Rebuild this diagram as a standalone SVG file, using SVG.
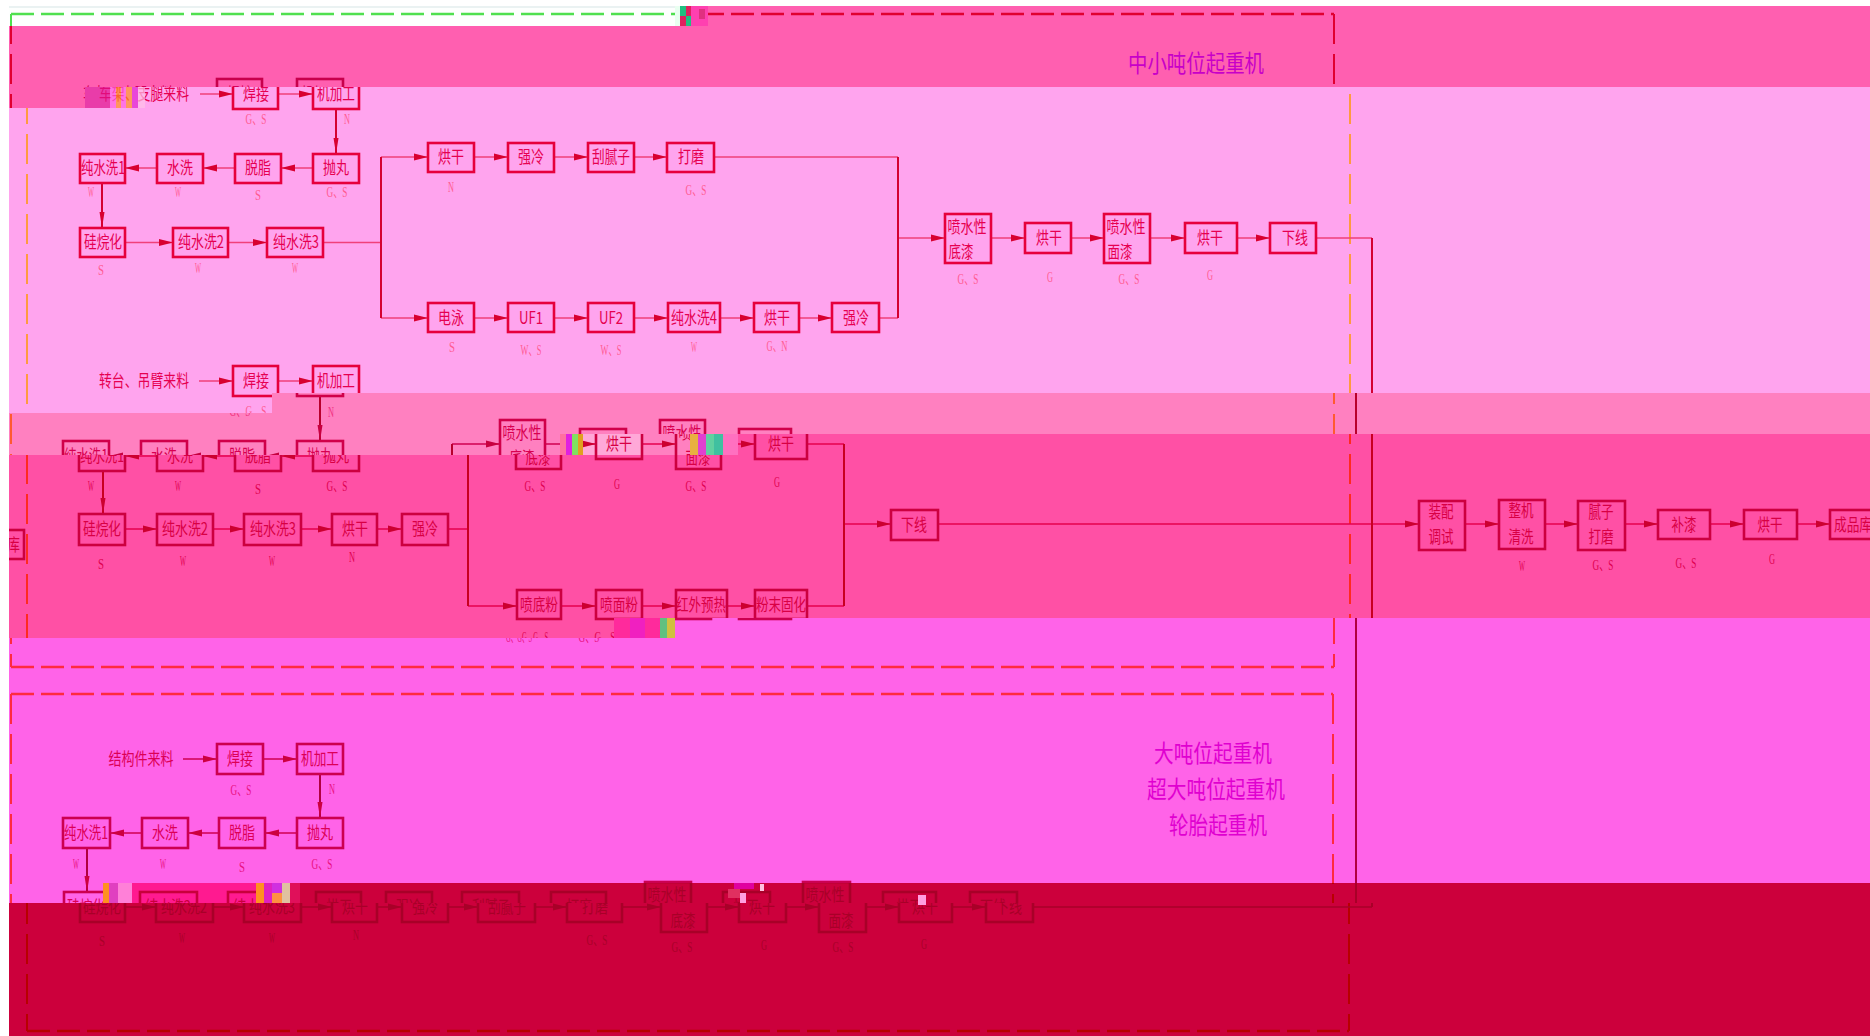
<svg xmlns="http://www.w3.org/2000/svg" xmlns:xlink="http://www.w3.org/1999/xlink" width="1870" height="1036" viewBox="0 0 1870 1036">
<style>
.box{fill:none;stroke:var(--b);stroke-width:2.6}
.t{font-family:"Noto Sans CJK SC","Liberation Sans",sans-serif;font-size:17px;fill:var(--t);text-anchor:middle}
.l{font-family:"Liberation Serif","Noto Sans CJK SC",serif;font-size:15px;fill:var(--l);text-anchor:middle}
.m{font-family:"Noto Sans CJK SC","Liberation Sans",sans-serif;font-size:24px;fill:var(--m);text-anchor:middle}
.h{fill:none;stroke:var(--h);stroke-width:1.6}
.v{fill:none;stroke:var(--v);stroke-width:2}
.a{fill:var(--a)}
.fh{fill:none;stroke:var(--f);stroke-width:2.5;stroke-dasharray:23 7}
.fv{fill:none;stroke:var(--f);stroke-width:2;stroke-dasharray:30 10}
.e1{--b:#c8004c;--t:#d8005a;--l:#ff3a80;--f:#e00030;--v:#c80040;--h:#d00050;--a:#c80040;--m:#c800c8}
.o1{--b:#e6003c;--t:#e60050;--l:#ff5a90;--f:#ff9a40;--v:#d40030;--h:#f0407a;--a:#d80030;--m:#c800c8}
.e2{--b:#d0004a;--t:#d80050;--l:#f03080;--f:#ff5a30;--v:#b8002c;--h:#d00050;--a:#c80040;--m:#c800c8}
.o2{--b:#cc0040;--t:#d80044;--l:#e00050;--f:#ff2a20;--v:#c80020;--h:#e6004e;--a:#cc0030;--m:#c800c8}
.e3{--b:#cc0050;--t:#dc0056;--l:#e81080;--f:#ff2a40;--v:#b00040;--h:#d00050;--a:#cc0040;--m:#e000d0}
.hs{--b:#c8003c;--t:#c8003c;--l:#c8003c;--f:#c8003c;--v:#c8003c;--h:#c8003c;--a:#c8003c;--m:#c8003c}
.dk{--b:#a80028;--t:#a80028;--l:#a80028;--f:#b80000;--v:#a80028;--h:#a80028;--a:#a80028;--m:#a80028}
.wt{--b:#c8004c;--t:#e6006a;--l:#ff4a90;--f:#4fe04f;--v:#4fe04f;--h:#4fe04f;--a:#4fe04f;--m:#c800c8}
</style>
<defs>
<polygon id="ar" points="-14,-3.5 0,0 -14,3.5"/>
<polygon id="al" points="14,-3.5 0,0 14,3.5"/>
<polygon id="ad" points="-2.5,-16 0,0 2.5,-16"/>
<clipPath id="cW"><rect x="9" y="6" width="666" height="20"/></clipPath>
<clipPath id="cE1"><rect x="708" y="6" width="1162" height="20"/><rect x="9" y="26" width="1861" height="61"/><rect x="9" y="87" width="76" height="21"/></clipPath>
<clipPath id="cO1"><rect x="85" y="87" width="1785" height="306"/><rect x="9" y="108" width="76" height="285"/><rect x="9" y="393" width="263" height="20"/></clipPath>
<clipPath id="cE2"><rect x="272" y="393" width="1598" height="41"/><rect x="9" y="413" width="263" height="42"/><rect x="272" y="434" width="311" height="21"/></clipPath>
<clipPath id="cO2"><rect x="9" y="455" width="574" height="183"/><rect x="583" y="434" width="1287" height="184"/><rect x="583" y="618" width="31" height="20"/></clipPath>
<clipPath id="cE3"><rect x="9" y="638" width="1861" height="245"/><rect x="614" y="618" width="1256" height="20"/><rect x="9" y="883" width="94" height="20"/></clipPath>
<clipPath id="cH"><rect x="103" y="883" width="197" height="20"/></clipPath>
<clipPath id="cD1"><rect x="300" y="883" width="1570" height="20"/></clipPath>
<clipPath id="cD2"><rect x="9" y="903" width="1861" height="133"/></clipPath>
<clipPath id="cWrap"><rect x="9" y="525" width="18" height="40"/></clipPath>
<g id="content">
<g id="frames">
<path class="fh" d="M27,14H1350M27,667H1350M27,694H1349M27,1031H1349"/>
<path class="fv" d="M27,14V667M1350,14V667M27,694V1031M1349,694V1031"/>
</g>
<g id="connectors">
<path class="h" d="M200,94H233M278,94H313M313,168H281M235,168H203M157,168H125M125,242.5H173M228,242.5H267M323,242.5H381M381,157H428M474,157H508M554,157H588M634,157H667M714,157H898M381,318H428M474,318H508M554,318H588M634,318H668M720,318H754M799,318H832M879,318H898M898,238H945M991,238H1025M1071,238H1104M1150,238H1185M1237,238H1270M1316,238H1372"/>
<path class="h" d="M199,381H233M278,381H313M313,456H281M235,456H203M157,456H125M125,529H157M213,529H244M301,529H332M377,529H402M448,529H468M468,444H516M561,444H596M642,444H676M721,444H755M807,444H844M468,606H517M561,606H596M642,606H676M727,606H755M807,606H844M844,524H891M938,524H1419M1465,524H1499M1545,524H1578M1625,524H1658M1710,524H1744M1796,524H1830"/>
<path class="h" d="M199,759H233M279,759H313M313,833H281M235,833H204M158,833H126M125,907H156M213,907H244M301,907H332M377,907H402M448,907H478M535,907H567M622,907H661M707,907H739M786,907H819M866,907H899M952,907H986M1033,907H1372"/>
<path class="v" d="M336,109V154M102,183V228M381,157V318M898,157V318M1372,238V907M336,396V441M103,470V514M468,444V606M844,444V606M336,774V818M103,848V892"/>
<g class="a">
<use href="#ar" x="233" y="94"/><use href="#ar" x="313" y="94"/><use href="#ad" x="336" y="154"/><use href="#al" x="281" y="168"/><use href="#al" x="203" y="168"/><use href="#al" x="125" y="168"/><use href="#ad" x="102" y="228"/><use href="#ar" x="173" y="242.5"/><use href="#ar" x="267" y="242.5"/><use href="#ar" x="428" y="157"/><use href="#ar" x="508" y="157"/><use href="#ar" x="588" y="157"/><use href="#ar" x="667" y="157"/><use href="#ar" x="428" y="318"/><use href="#ar" x="508" y="318"/><use href="#ar" x="588" y="318"/><use href="#ar" x="668" y="318"/><use href="#ar" x="754" y="318"/><use href="#ar" x="832" y="318"/><use href="#ar" x="945" y="238"/><use href="#ar" x="1025" y="238"/><use href="#ar" x="1104" y="238"/><use href="#ar" x="1185" y="238"/><use href="#ar" x="1270" y="238"/>
<use href="#ar" x="233" y="381"/><use href="#ar" x="313" y="381"/><use href="#ad" x="336" y="441"/><use href="#al" x="281" y="456"/><use href="#al" x="203" y="456"/><use href="#al" x="125" y="456"/><use href="#ad" x="103" y="514"/><use href="#ar" x="157" y="529"/><use href="#ar" x="244" y="529"/><use href="#ar" x="332" y="529"/><use href="#ar" x="402" y="529"/><use href="#ar" x="516" y="444"/><use href="#ar" x="596" y="444"/><use href="#ar" x="676" y="444"/><use href="#ar" x="755" y="444"/><use href="#ar" x="517" y="606"/><use href="#ar" x="596" y="606"/><use href="#ar" x="676" y="606"/><use href="#ar" x="755" y="606"/><use href="#ar" x="891" y="524"/><use href="#ar" x="1419" y="524"/><use href="#ar" x="1499" y="524"/><use href="#ar" x="1578" y="524"/><use href="#ar" x="1658" y="524"/><use href="#ar" x="1744" y="524"/><use href="#ar" x="1830" y="524"/>
<use href="#ar" x="233" y="759"/><use href="#ar" x="313" y="759"/><use href="#ad" x="336" y="818"/><use href="#al" x="281" y="833"/><use href="#al" x="204" y="833"/><use href="#al" x="126" y="833"/><use href="#ad" x="103" y="892"/><use href="#ar" x="156" y="907"/><use href="#ar" x="244" y="907"/><use href="#ar" x="332" y="907"/><use href="#ar" x="402" y="907"/><use href="#ar" x="478" y="907"/><use href="#ar" x="567" y="907"/><use href="#ar" x="661" y="907"/><use href="#ar" x="739" y="907"/><use href="#ar" x="819" y="907"/><use href="#ar" x="899" y="907"/><use href="#ar" x="986" y="907"/>
</g>
</g>
<g id="titles">
<text class="m" x="1212" y="72" textLength="136" lengthAdjust="spacingAndGlyphs">中小吨位起重机</text>
<text class="m" x="1229" y="762" textLength="118" lengthAdjust="spacingAndGlyphs">大吨位起重机</text>
<text class="m" x="1232" y="798" textLength="138" lengthAdjust="spacingAndGlyphs">超大吨位起重机</text>
<text class="m" x="1234" y="834" textLength="98" lengthAdjust="spacingAndGlyphs">轮胎起重机</text>
</g>
<g id="feed1"><text class="t" x="144" y="100" textLength="90" lengthAdjust="spacingAndGlyphs">车架、支腿来料</text></g>
<g id="s1-weld"><rect class="box" x="233" y="79" width="45" height="30"/><text class="t" x="256" y="100" textLength="26" lengthAdjust="spacingAndGlyphs">焊接</text><text class="l" x="256" y="124" textLength="21" lengthAdjust="spacingAndGlyphs">G、S</text></g>
<g id="s1-mach"><rect class="box" x="313" y="79" width="46" height="30"/><text class="t" x="336" y="100" textLength="38" lengthAdjust="spacingAndGlyphs">机加工</text><text class="l" x="347" y="124" textLength="6" lengthAdjust="spacingAndGlyphs">N</text></g>
<g id="s1-shot"><rect class="box" x="313" y="154" width="46" height="29"/><text class="t" x="336" y="174" textLength="26" lengthAdjust="spacingAndGlyphs">抛丸</text><text class="l" x="337" y="197" textLength="21" lengthAdjust="spacingAndGlyphs">G、S</text></g>
<g id="s1-degrease"><rect class="box" x="235" y="154" width="46" height="29"/><text class="t" x="258" y="174" textLength="26" lengthAdjust="spacingAndGlyphs">脱脂</text><text class="l" x="258" y="200" textLength="6" lengthAdjust="spacingAndGlyphs">S</text></g>
<g id="s1-wash"><rect class="box" x="157" y="154" width="46" height="29"/><text class="t" x="180" y="174" textLength="26" lengthAdjust="spacingAndGlyphs">水洗</text><text class="l" x="178" y="197" textLength="6" lengthAdjust="spacingAndGlyphs">W</text></g>
<g id="s1-pw1"><rect class="box" x="80" y="154" width="45" height="29"/><text class="t" x="103" y="174" textLength="44" lengthAdjust="spacingAndGlyphs">纯水洗1</text><text class="l" x="91" y="197" textLength="6" lengthAdjust="spacingAndGlyphs">W</text></g>
<g id="s1-silane"><rect class="box" x="80" y="228" width="45" height="29"/><text class="t" x="103" y="248" textLength="38" lengthAdjust="spacingAndGlyphs">硅烷化</text><text class="l" x="101" y="275" textLength="6" lengthAdjust="spacingAndGlyphs">S</text></g>
<g id="s1-pw2"><rect class="box" x="173" y="228" width="55" height="29"/><text class="t" x="201" y="248" textLength="46" lengthAdjust="spacingAndGlyphs">纯水洗2</text><text class="l" x="198" y="273" textLength="6" lengthAdjust="spacingAndGlyphs">W</text></g>
<g id="s1-pw3"><rect class="box" x="267" y="228" width="56" height="29"/><text class="t" x="296" y="248" textLength="46" lengthAdjust="spacingAndGlyphs">纯水洗3</text><text class="l" x="295" y="273" textLength="6" lengthAdjust="spacingAndGlyphs">W</text></g>
<g id="s1-dry1"><rect class="box" x="428" y="143" width="46" height="29"/><text class="t" x="451" y="163" textLength="26" lengthAdjust="spacingAndGlyphs">烘干</text><text class="l" x="451" y="192" textLength="6" lengthAdjust="spacingAndGlyphs">N</text></g>
<g id="s1-cool1"><rect class="box" x="508" y="143" width="46" height="29"/><text class="t" x="531" y="163" textLength="26" lengthAdjust="spacingAndGlyphs">强冷</text></g>
<g id="s1-putty"><rect class="box" x="588" y="143" width="46" height="29"/><text class="t" x="611" y="163" textLength="38" lengthAdjust="spacingAndGlyphs">刮腻子</text></g>
<g id="s1-sand"><rect class="box" x="667" y="143" width="47" height="29"/><text class="t" x="691" y="163" textLength="26" lengthAdjust="spacingAndGlyphs">打磨</text><text class="l" x="696" y="195" textLength="21" lengthAdjust="spacingAndGlyphs">G、S</text></g>
<g id="s1-ep"><rect class="box" x="428" y="303" width="46" height="29"/><text class="t" x="451" y="324" textLength="26" lengthAdjust="spacingAndGlyphs">电泳</text><text class="l" x="452" y="352" textLength="6" lengthAdjust="spacingAndGlyphs">S</text></g>
<g id="s1-uf1"><rect class="box" x="508" y="303" width="46" height="29"/><text class="t" x="531" y="324" textLength="24" lengthAdjust="spacingAndGlyphs">UF1</text><text class="l" x="531" y="355" textLength="21" lengthAdjust="spacingAndGlyphs">W、S</text></g>
<g id="s1-uf2"><rect class="box" x="588" y="303" width="46" height="29"/><text class="t" x="611" y="324" textLength="24" lengthAdjust="spacingAndGlyphs">UF2</text><text class="l" x="611" y="355" textLength="21" lengthAdjust="spacingAndGlyphs">W、S</text></g>
<g id="s1-pw4"><rect class="box" x="668" y="303" width="52" height="29"/><text class="t" x="694" y="324" textLength="46" lengthAdjust="spacingAndGlyphs">纯水洗4</text><text class="l" x="694" y="352" textLength="6" lengthAdjust="spacingAndGlyphs">W</text></g>
<g id="s1-dry2"><rect class="box" x="754" y="303" width="45" height="29"/><text class="t" x="777" y="324" textLength="26" lengthAdjust="spacingAndGlyphs">烘干</text><text class="l" x="777" y="351" textLength="21" lengthAdjust="spacingAndGlyphs">G、N</text></g>
<g id="s1-cool2"><rect class="box" x="832" y="303" width="47" height="29"/><text class="t" x="856" y="324" textLength="26" lengthAdjust="spacingAndGlyphs">强冷</text></g>
<g id="s1-prime"><rect class="box" x="945" y="214" width="46" height="49"/><text class="t" x="967" y="233" textLength="39" lengthAdjust="spacingAndGlyphs">喷水性</text><text class="t" x="961" y="258" textLength="25" lengthAdjust="spacingAndGlyphs">底漆</text><text class="l" x="968" y="284" textLength="21" lengthAdjust="spacingAndGlyphs">G、S</text></g>
<g id="s1-dry3"><rect class="box" x="1025" y="223" width="46" height="30"/><text class="t" x="1049" y="244" textLength="26" lengthAdjust="spacingAndGlyphs">烘干</text><text class="l" x="1050" y="282" textLength="6" lengthAdjust="spacingAndGlyphs">G</text></g>
<g id="s1-top"><rect class="box" x="1104" y="214" width="46" height="49"/><text class="t" x="1126" y="233" textLength="39" lengthAdjust="spacingAndGlyphs">喷水性</text><text class="t" x="1120" y="258" textLength="25" lengthAdjust="spacingAndGlyphs">面漆</text><text class="l" x="1129" y="284" textLength="21" lengthAdjust="spacingAndGlyphs">G、S</text></g>
<g id="s1-dry4"><rect class="box" x="1185" y="223" width="52" height="30"/><text class="t" x="1210" y="244" textLength="26" lengthAdjust="spacingAndGlyphs">烘干</text><text class="l" x="1210" y="280" textLength="6" lengthAdjust="spacingAndGlyphs">G</text></g>
<g id="s1-off"><rect class="box" x="1270" y="223" width="46" height="30"/><text class="t" x="1295" y="244" textLength="26" lengthAdjust="spacingAndGlyphs">下线</text></g>
<g id="feed2"><text class="t" x="144" y="387" textLength="90" lengthAdjust="spacingAndGlyphs">转台、吊臂来料</text></g>
<g id="s2-weld"><rect class="box" x="233" y="366" width="45" height="30"/><text class="t" x="256" y="387" textLength="26" lengthAdjust="spacingAndGlyphs">焊接</text><text class="l" x="256" y="416" textLength="21" lengthAdjust="spacingAndGlyphs">G、S</text></g>
<g id="s2-mach"><rect class="box" x="313" y="366" width="46" height="30"/><text class="t" x="336" y="387" textLength="38" lengthAdjust="spacingAndGlyphs">机加工</text><text class="l" x="347" y="417" textLength="6" lengthAdjust="spacingAndGlyphs">N</text></g>
<g id="s2-shot"><rect class="box" x="313" y="441" width="46" height="30"/><text class="t" x="336" y="462" textLength="26" lengthAdjust="spacingAndGlyphs">抛丸</text><text class="l" x="337" y="491" textLength="21" lengthAdjust="spacingAndGlyphs">G、S</text></g>
<g id="s2-degrease"><rect class="box" x="235" y="441" width="46" height="30"/><text class="t" x="258" y="462" textLength="26" lengthAdjust="spacingAndGlyphs">脱脂</text><text class="l" x="258" y="494" textLength="6" lengthAdjust="spacingAndGlyphs">S</text></g>
<g id="s2-wash"><rect class="box" x="157" y="441" width="46" height="30"/><text class="t" x="180" y="462" textLength="26" lengthAdjust="spacingAndGlyphs">水洗</text><text class="l" x="178" y="491" textLength="6" lengthAdjust="spacingAndGlyphs">W</text></g>
<g id="s2-pw1"><rect class="box" x="79" y="441" width="46" height="30"/><text class="t" x="102" y="462" textLength="44" lengthAdjust="spacingAndGlyphs">纯水洗1</text><text class="l" x="91" y="491" textLength="6" lengthAdjust="spacingAndGlyphs">W</text></g>
<g id="s2-silane"><rect class="box" x="79" y="514" width="46" height="31"/><text class="t" x="102" y="535" textLength="38" lengthAdjust="spacingAndGlyphs">硅烷化</text><text class="l" x="101" y="569" textLength="6" lengthAdjust="spacingAndGlyphs">S</text></g>
<g id="s2-pw2"><rect class="box" x="157" y="514" width="56" height="31"/><text class="t" x="185" y="535" textLength="46" lengthAdjust="spacingAndGlyphs">纯水洗2</text><text class="l" x="183" y="566" textLength="6" lengthAdjust="spacingAndGlyphs">W</text></g>
<g id="s2-pw3"><rect class="box" x="244" y="514" width="57" height="31"/><text class="t" x="273" y="535" textLength="46" lengthAdjust="spacingAndGlyphs">纯水洗3</text><text class="l" x="272" y="566" textLength="6" lengthAdjust="spacingAndGlyphs">W</text></g>
<g id="s2-dry"><rect class="box" x="332" y="514" width="45" height="31"/><text class="t" x="355" y="535" textLength="26" lengthAdjust="spacingAndGlyphs">烘干</text><text class="l" x="352" y="562" textLength="6" lengthAdjust="spacingAndGlyphs">N</text></g>
<g id="s2-cool"><rect class="box" x="402" y="514" width="46" height="31"/><text class="t" x="425" y="535" textLength="26" lengthAdjust="spacingAndGlyphs">强冷</text></g>
<g id="s2-prime"><rect class="box" x="516" y="420" width="45" height="49"/><text class="t" x="538" y="439" textLength="39" lengthAdjust="spacingAndGlyphs">喷水性</text><text class="t" x="538" y="464" textLength="25" lengthAdjust="spacingAndGlyphs">底漆</text><text class="l" x="535" y="491" textLength="21" lengthAdjust="spacingAndGlyphs">G、S</text></g>
<g id="s2-dry2"><rect class="box" x="596" y="429" width="46" height="30"/><text class="t" x="619" y="450" textLength="26" lengthAdjust="spacingAndGlyphs">烘干</text><text class="l" x="617" y="489" textLength="6" lengthAdjust="spacingAndGlyphs">G</text></g>
<g id="s2-top"><rect class="box" x="676" y="420" width="45" height="49"/><text class="t" x="698" y="439" textLength="39" lengthAdjust="spacingAndGlyphs">喷水性</text><text class="t" x="698" y="464" textLength="25" lengthAdjust="spacingAndGlyphs">面漆</text><text class="l" x="696" y="491" textLength="21" lengthAdjust="spacingAndGlyphs">G、S</text></g>
<g id="s2-dry3"><rect class="box" x="755" y="429" width="52" height="30"/><text class="t" x="781" y="450" textLength="26" lengthAdjust="spacingAndGlyphs">烘干</text><text class="l" x="777" y="487" textLength="6" lengthAdjust="spacingAndGlyphs">G</text></g>
<g id="s2-bp"><rect class="box" x="517" y="590" width="44" height="29"/><text class="t" x="539" y="611" textLength="38" lengthAdjust="spacingAndGlyphs">喷底粉</text><text class="l" x="535" y="642" textLength="26" lengthAdjust="spacingAndGlyphs">G、G、S</text></g>
<g id="s2-tp"><rect class="box" x="596" y="590" width="46" height="29"/><text class="t" x="619" y="611" textLength="38" lengthAdjust="spacingAndGlyphs">喷面粉</text><text class="l" x="605" y="642" textLength="21" lengthAdjust="spacingAndGlyphs">G、S</text></g>
<g id="s2-ir"><rect class="box" x="676" y="590" width="51" height="29"/><text class="t" x="701" y="611" textLength="50" lengthAdjust="spacingAndGlyphs">红外预热</text></g>
<g id="s2-cure"><rect class="box" x="755" y="590" width="52" height="29"/><text class="t" x="781" y="611" textLength="50" lengthAdjust="spacingAndGlyphs">粉末固化</text></g>
<g id="s2-off"><rect class="box" x="891" y="510" width="47" height="30"/><text class="t" x="914" y="531" textLength="26" lengthAdjust="spacingAndGlyphs">下线</text></g>
<g id="m-assy"><rect class="box" x="1419" y="501" width="46" height="49"/><text class="t" x="1441" y="518" textLength="25" lengthAdjust="spacingAndGlyphs">装配</text><text class="t" x="1441" y="543" textLength="25" lengthAdjust="spacingAndGlyphs">调试</text></g>
<g id="m-clean"><rect class="box" x="1499" y="500" width="46" height="49"/><text class="t" x="1521" y="517" textLength="25" lengthAdjust="spacingAndGlyphs">整机</text><text class="t" x="1521" y="543" textLength="25" lengthAdjust="spacingAndGlyphs">清洗</text><text class="l" x="1522" y="571" textLength="6" lengthAdjust="spacingAndGlyphs">W</text></g>
<g id="m-putty"><rect class="box" x="1578" y="501" width="47" height="49"/><text class="t" x="1601" y="518" textLength="25" lengthAdjust="spacingAndGlyphs">腻子</text><text class="t" x="1601" y="543" textLength="25" lengthAdjust="spacingAndGlyphs">打磨</text><text class="l" x="1603" y="570" textLength="21" lengthAdjust="spacingAndGlyphs">G、S</text></g>
<g id="m-touch"><rect class="box" x="1658" y="510" width="52" height="29"/><text class="t" x="1684" y="531" textLength="25" lengthAdjust="spacingAndGlyphs">补漆</text><text class="l" x="1686" y="568" textLength="21" lengthAdjust="spacingAndGlyphs">G、S</text></g>
<g id="m-dry"><rect class="box" x="1744" y="510" width="53" height="29"/><text class="t" x="1770" y="531" textLength="25" lengthAdjust="spacingAndGlyphs">烘干</text><text class="l" x="1772" y="564" textLength="6" lengthAdjust="spacingAndGlyphs">G</text></g>
<g id="m-store"><rect class="box" x="1830" y="510" width="46" height="29"/><text class="t" x="1853" y="531" textLength="38" lengthAdjust="spacingAndGlyphs">成品库</text></g>
<g id="feed3"><text class="t" x="157" y="765" textLength="65" lengthAdjust="spacingAndGlyphs">结构件来料</text></g>
<g id="s3-weld"><rect class="box" x="233" y="744" width="46" height="30"/><text class="t" x="256" y="765" textLength="26" lengthAdjust="spacingAndGlyphs">焊接</text><text class="l" x="257" y="795" textLength="21" lengthAdjust="spacingAndGlyphs">G、S</text></g>
<g id="s3-mach"><rect class="box" x="313" y="744" width="46" height="30"/><text class="t" x="336" y="765" textLength="38" lengthAdjust="spacingAndGlyphs">机加工</text><text class="l" x="348" y="794" textLength="6" lengthAdjust="spacingAndGlyphs">N</text></g>
<g id="s3-shot"><rect class="box" x="313" y="818" width="46" height="30"/><text class="t" x="336" y="839" textLength="26" lengthAdjust="spacingAndGlyphs">抛丸</text><text class="l" x="338" y="869" textLength="21" lengthAdjust="spacingAndGlyphs">G、S</text></g>
<g id="s3-degrease"><rect class="box" x="235" y="818" width="46" height="30"/><text class="t" x="258" y="839" textLength="26" lengthAdjust="spacingAndGlyphs">脱脂</text><text class="l" x="258" y="872" textLength="6" lengthAdjust="spacingAndGlyphs">S</text></g>
<g id="s3-wash"><rect class="box" x="158" y="818" width="46" height="30"/><text class="t" x="181" y="839" textLength="26" lengthAdjust="spacingAndGlyphs">水洗</text><text class="l" x="179" y="869" textLength="6" lengthAdjust="spacingAndGlyphs">W</text></g>
<g id="s3-pw1"><rect class="box" x="79" y="818" width="47" height="30"/><text class="t" x="102" y="839" textLength="44" lengthAdjust="spacingAndGlyphs">纯水洗1</text><text class="l" x="92" y="869" textLength="6" lengthAdjust="spacingAndGlyphs">W</text></g>
<g id="s3-silane"><rect class="box" x="80" y="892" width="45" height="30"/><text class="t" x="102" y="913" textLength="38" lengthAdjust="spacingAndGlyphs">硅烷化</text><text class="l" x="102" y="946" textLength="6" lengthAdjust="spacingAndGlyphs">S</text></g>
<g id="s3-pw2"><rect class="box" x="156" y="892" width="57" height="30"/><text class="t" x="184" y="913" textLength="46" lengthAdjust="spacingAndGlyphs">纯水洗2</text><text class="l" x="182" y="943" textLength="6" lengthAdjust="spacingAndGlyphs">W</text></g>
<g id="s3-pw3"><rect class="box" x="244" y="892" width="57" height="30"/><text class="t" x="272" y="913" textLength="46" lengthAdjust="spacingAndGlyphs">纯水洗3</text><text class="l" x="272" y="943" textLength="6" lengthAdjust="spacingAndGlyphs">W</text></g>
<g id="s3-dry"><rect class="box" x="332" y="892" width="45" height="30"/><text class="t" x="355" y="913" textLength="26" lengthAdjust="spacingAndGlyphs">烘干</text><text class="l" x="356" y="940" textLength="6" lengthAdjust="spacingAndGlyphs">N</text></g>
<g id="s3-cool"><rect class="box" x="402" y="892" width="46" height="30"/><text class="t" x="425" y="913" textLength="26" lengthAdjust="spacingAndGlyphs">强冷</text></g>
<g id="s3-bake"><rect class="box" x="478" y="892" width="57" height="30"/><text class="t" x="507" y="913" textLength="38" lengthAdjust="spacingAndGlyphs">刮腻子</text></g>
<g id="s3-sand"><rect class="box" x="567" y="892" width="55" height="30"/><text class="t" x="595" y="913" textLength="26" lengthAdjust="spacingAndGlyphs">打磨</text><text class="l" x="597" y="945" textLength="21" lengthAdjust="spacingAndGlyphs">G、S</text></g>
<g id="s3-prime"><rect class="box" x="661" y="882" width="46" height="50"/><text class="t" x="683" y="901" textLength="39" lengthAdjust="spacingAndGlyphs">喷水性</text><text class="t" x="683" y="927" textLength="25" lengthAdjust="spacingAndGlyphs">底漆</text><text class="l" x="682" y="952" textLength="21" lengthAdjust="spacingAndGlyphs">G、S</text></g>
<g id="s3-dry2"><rect class="box" x="739" y="892" width="47" height="30"/><text class="t" x="762" y="913" textLength="26" lengthAdjust="spacingAndGlyphs">烘干</text><text class="l" x="764" y="950" textLength="6" lengthAdjust="spacingAndGlyphs">G</text></g>
<g id="s3-top"><rect class="box" x="819" y="882" width="47" height="50"/><text class="t" x="841" y="901" textLength="39" lengthAdjust="spacingAndGlyphs">喷水性</text><text class="t" x="841" y="927" textLength="25" lengthAdjust="spacingAndGlyphs">面漆</text><text class="l" x="843" y="952" textLength="21" lengthAdjust="spacingAndGlyphs">G、S</text></g>
<g id="s3-dry3"><rect class="box" x="899" y="892" width="53" height="30"/><text class="t" x="925" y="913" textLength="26" lengthAdjust="spacingAndGlyphs">烘干</text><text class="l" x="924" y="949" textLength="6" lengthAdjust="spacingAndGlyphs">G</text></g>
<g id="s3-off"><rect class="box" x="986" y="892" width="47" height="30"/><text class="t" x="1009" y="913" textLength="26" lengthAdjust="spacingAndGlyphs">下线</text></g>
</g>
</defs>
<rect width="1870" height="1036" fill="#ffffff"/>
<g class="wt" clip-path="url(#cW)"><rect x="9" y="6" width="666" height="20" fill="#fdfffe"/><rect x="9" y="6" width="666" height="2" fill="#eaf2f2"/><use href="#content" transform="translate(-16,0)"/></g>
<g class="e1" clip-path="url(#cE1)"><rect width="1870" height="1036" fill="#ff5fb0"/><use href="#content" transform="translate(-16,0)"/></g>
<g class="o1" clip-path="url(#cO1)"><rect width="1870" height="1036" fill="#ffa4ee"/><use href="#content"/></g>
<g class="e2" clip-path="url(#cE2)"><rect width="1870" height="1036" fill="#ff80c0"/><use href="#content" transform="translate(-16,0)"/></g>
<g class="o2" clip-path="url(#cO2)"><rect width="1870" height="1036" fill="#ff50a5"/><rect x="583" y="434" width="59" height="21" fill="#ffa8d8"/><rect x="642" y="434" width="48" height="21" fill="#ff80c0"/><use href="#content"/></g>
<g class="e3" clip-path="url(#cE3)"><rect width="1870" height="1036" fill="#ff63e8"/><use href="#content" transform="translate(-16,0)"/></g>
<g class="hs" clip-path="url(#cH)"><rect width="1870" height="1036" fill="#ff1a90"/><use href="#content" transform="translate(-16,0)"/></g>
<g class="dk" clip-path="url(#cD1)"><rect width="1870" height="1036" fill="#cc003c"/><use href="#content" transform="translate(-16,0)"/></g>
<g class="dk" clip-path="url(#cD2)"><rect width="1870" height="1036" fill="#cc003c"/><use href="#content"/></g>
<g class="o2" clip-path="url(#cWrap)"><use href="#content" transform="translate(-1852,20)"/></g>
<g id="noise">
<rect x="675" y="6" width="5" height="20" fill="#e8fff0"/><rect x="680" y="6" width="6" height="10" fill="#20c080"/><rect x="680" y="16" width="6" height="10" fill="#e0205e"/><rect x="686" y="6" width="5" height="10" fill="#e0205e"/><rect x="686" y="16" width="5" height="10" fill="#20c080"/><rect x="691" y="6" width="17" height="20" fill="#ff40b0"/><rect x="699" y="9" width="6" height="10" fill="#e03080"/>
<g fill-opacity="0.7"><rect x="85" y="87" width="25" height="21" fill="#e0108c"/><rect x="110" y="87" width="6" height="21" fill="#ff60e0"/><rect x="116" y="87" width="5" height="21" fill="#ff9020"/><rect x="121" y="87" width="5" height="21" fill="#ff60e0"/><rect x="126" y="87" width="6" height="21" fill="#ff9020"/><rect x="132" y="87" width="6" height="21" fill="#e020d0"/><rect x="138" y="87" width="7" height="21" fill="#ffc0e8"/></g>
<rect x="560" y="434" width="6" height="21" fill="#ff70a0"/><rect x="566" y="434" width="6" height="21" fill="#e020e0"/><rect x="572" y="434" width="6" height="21" fill="#80e060"/><rect x="578" y="434" width="5" height="21" fill="#e0a020"/>
<rect x="690" y="434" width="8" height="21" fill="#e8b040"/><rect x="698" y="434" width="8" height="21" fill="#e040d0"/><rect x="706" y="434" width="8" height="21" fill="#60d0a0"/><rect x="714" y="434" width="9" height="21" fill="#40c0a0"/><rect x="723" y="434" width="15" height="21" fill="#ff70c0"/>
<rect x="614" y="618" width="16" height="20" fill="#ff2a9c"/><rect x="630" y="618" width="15" height="20" fill="#f020c0"/><rect x="645" y="618" width="15" height="20" fill="#ff2a9c"/><rect x="660" y="618" width="7" height="20" fill="#60c080"/><rect x="667" y="618" width="8" height="20" fill="#d0c040"/>
<rect x="103" y="883" width="6" height="20" fill="#ff9020"/><rect x="109" y="883" width="9" height="20" fill="#e040c0"/><rect x="118" y="883" width="14" height="20" fill="#ff80d8"/>
<rect x="256" y="883" width="8" height="20" fill="#ff9020"/><rect x="264" y="883" width="8" height="20" fill="#e020c0"/><rect x="272" y="883" width="10" height="10" fill="#d030e0"/><rect x="272" y="893" width="10" height="10" fill="#ff9040"/><rect x="282" y="883" width="8" height="20" fill="#e0c0a0"/><rect x="290" y="883" width="10" height="20" fill="#e0105a"/>
<rect x="734" y="883" width="20" height="6" fill="#e000a0"/><rect x="728" y="889" width="12" height="9" fill="#e03060"/><rect x="740" y="893" width="6" height="10" fill="#ffa0e0"/><rect x="760" y="884" width="4" height="7" fill="#ffc0e0"/><rect x="918" y="895" width="8" height="10" fill="#ffa0e0"/>
</g>
</svg>
